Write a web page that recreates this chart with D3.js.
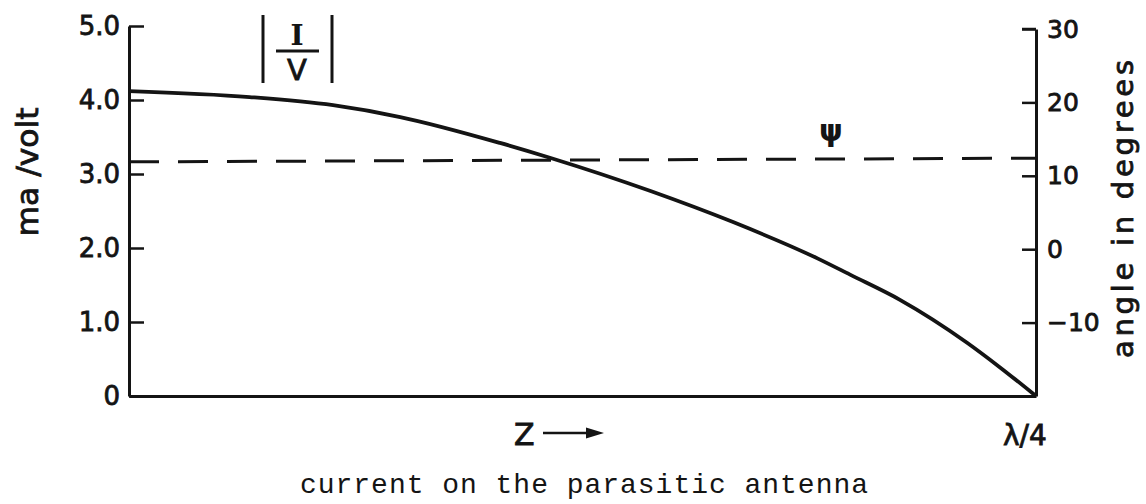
<!DOCTYPE html>
<html>
<head>
<meta charset="utf-8">
<script src="https://cdn.jsdelivr.net/npm/d3@7/dist/d3.min.js"></script>
<style>
  html, body { margin: 0; padding: 0; background: #fff; }
  svg { display: block; }
  .axis path, .axis line { stroke: #141414; }
  .axis text { font-family: "DejaVu Sans", sans-serif; fill: #141414; }
  .heavy { stroke: #141414; stroke-width: 0.8px; }
</style>
</head>
<body>
<svg id="chart" width="1146" height="504"></svg>
<script>
// Position along the parasitic element, as a fraction of a quarter wavelength
const zPos = [0, 0.133, 0.225, 0.299, 0.409, 0.464, 0.575, 0.666, 0.759, 0.795, 0.850, 0.924, 0.960, 1.0];
// |I/V| magnitude, ma/volt
const current = [4.12, 4.04, 3.93, 3.77, 3.42, 3.22, 2.77, 2.35, 1.86, 1.64, 1.30, 0.72, 0.39, 0.0];
// Phase angle psi, degrees
const psiPos = [0, 1];
const psi = [11.9, 12.4];

const leftTicks = [0, 1, 2, 3, 4, 5];
const leftTickLabels = ["0", "1.0", "2.0", "3.0", "4.0", "5.0"];
const rightTicks = [-10, 0, 10, 20, 30];
const rightTickLabels = ["\u221210", "0", "10", "20", "30"];

const ink = "#141414";
const svg = d3.select("#chart");

const x = d3.scaleLinear().domain([0, 1]).range([129, 1036]);
const yMag = d3.scaleLinear().domain([0, 5]).range([396, 26]);
const yAng = d3.scaleLinear().domain([-20, 30]).range([396, 29]);

// Left axis (ma/volt), ticks pointing into the plot
const gl = svg.append("g").attr("class", "axis")
  .attr("transform", `translate(${x(0)},0)`)
  .call(d3.axisLeft(yMag).tickValues(leftTicks)
    .tickFormat((d, i) => leftTickLabels[i])
    .tickSizeInner(-15).tickSizeOuter(0).tickPadding(9));
gl.select(".domain").attr("stroke-width", 3);
gl.selectAll(".tick line").attr("stroke-width", 2.5);
gl.selectAll(".tick text").attr("font-size", 26).attr("class", "heavy");

// Right axis (degrees)
const gr = svg.append("g").attr("class", "axis")
  .attr("transform", `translate(${x(1)},0)`)
  .call(d3.axisRight(yAng).tickValues(rightTicks)
    .tickFormat((d, i) => rightTickLabels[i])
    .tickSizeInner(-14).tickSizeOuter(0).tickPadding(11));
gr.select(".domain").attr("stroke-width", 3);
gr.selectAll(".tick line").attr("stroke-width", 2.5);
gr.selectAll(".tick text").attr("font-size", 25).attr("class", "heavy");
// top stub of the right axis
gr.append("line").attr("x1", -14).attr("x2", 0)
  .attr("y1", yAng(30)).attr("y2", yAng(30))
  .attr("stroke", ink).attr("stroke-width", 2.5);

// Bottom axis line
const gb = svg.append("g").attr("class", "axis")
  .attr("transform", `translate(0,${yMag(0)})`)
  .call(d3.axisBottom(x).tickValues([]).tickSizeOuter(0));
gb.select(".domain").attr("stroke-width", 3);

// Phase angle psi (dashed)
const psiLine = d3.line()
  .x((d, i) => x(psiPos[i]))
  .y(d => yAng(d));
svg.append("path")
  .datum(psi)
  .attr("d", psiLine)
  .attr("fill", "none")
  .attr("stroke", ink)
  .attr("stroke-width", 3)
  .attr("stroke-dasharray", "30,19");

// Current magnitude |I/V|
const magLine = d3.line()
  .x((d, i) => x(zPos[i]))
  .y(d => yMag(d))
  .curve(d3.curveMonotoneX);
svg.append("path")
  .datum(current)
  .attr("d", magLine)
  .attr("fill", "none")
  .attr("stroke", ink)
  .attr("stroke-width", 3.8)
  .attr("stroke-linejoin", "round");

// |I/V| label
const lab = svg.append("g");
[263, 332].forEach(bx => lab.append("line")
  .attr("x1", bx).attr("x2", bx).attr("y1", 15).attr("y2", 83)
  .attr("stroke", ink).attr("stroke-width", 3));
lab.append("line").attr("x1", 276).attr("x2", 319).attr("y1", 51).attr("y2", 51)
  .attr("stroke", ink).attr("stroke-width", 3);
lab.append("text").attr("x", 297).attr("y", 45).attr("text-anchor", "middle")
  .attr("font-family", "DejaVu Serif, serif").attr("font-weight", "bold")
  .attr("font-size", 28).attr("fill", ink).text("I");
lab.append("text").attr("x", 297).attr("y", 80).attr("text-anchor", "middle")
  .attr("font-family", "DejaVu Sans, sans-serif").attr("class", "heavy")
  .attr("font-size", 29).attr("fill", ink).text("V");

// psi label
svg.append("text").attr("x", 831).attr("y", 141).attr("text-anchor", "middle")
  .attr("font-family", "DejaVu Sans, sans-serif").attr("font-weight", "bold")
  .attr("font-size", 30).attr("fill", ink).text("\u03C8");

// Axis titles
svg.append("text")
  .attr("transform", "translate(38,172) rotate(-90)")
  .attr("text-anchor", "middle")
  .attr("font-family", "DejaVu Sans, sans-serif").attr("class", "heavy")
  .attr("font-size", 30).attr("fill", ink)
  .attr("textLength", 129).attr("lengthAdjust", "spacingAndGlyphs")
  .text("ma /volt");
svg.append("text")
  .attr("transform", "translate(1133,209) rotate(-90)")
  .attr("text-anchor", "middle")
  .attr("font-family", "DejaVu Sans, sans-serif").attr("class", "heavy")
  .attr("font-size", 29).attr("fill", ink)
  .attr("textLength", 298).attr("lengthAdjust", "spacing")
  .text("angle  in  degrees");

// Z arrow and lambda/4 under the axis
svg.append("text").attr("x", 514).attr("y", 445)
  .attr("font-family", "DejaVu Sans, sans-serif").attr("class", "heavy")
  .attr("font-size", 30).attr("fill", ink).text("Z");
svg.append("line").attr("x1", 543).attr("x2", 590).attr("y1", 433).attr("y2", 433)
  .attr("stroke", ink).attr("stroke-width", 2.5);
svg.append("path").attr("d", "M586,427.5 L604,433 L586,438.5 Z").attr("fill", ink);
svg.append("text").attr("x", 1003).attr("y", 445)
  .attr("font-family", "DejaVu Sans, sans-serif").attr("class", "heavy")
  .attr("font-size", 28).attr("fill", ink).text("\u03BB/4");

// Caption
svg.append("text").attr("x", 300).attr("y", 493)
  .attr("font-family", "Liberation Mono, monospace")
  .attr("font-size", 28).attr("fill", ink)
  .attr("textLength", 568).attr("lengthAdjust", "spacing")
  .text("current on the parasitic antenna");
</script>
</body>
</html>
